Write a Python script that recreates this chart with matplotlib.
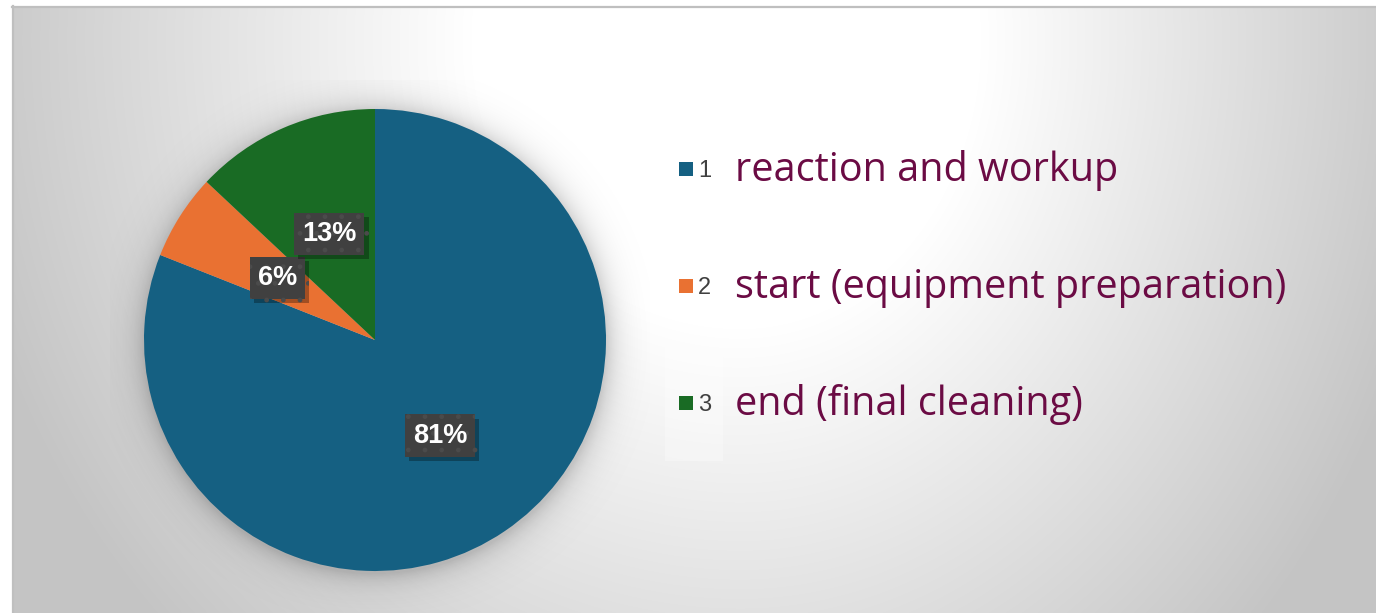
import numpy as np
import matplotlib
matplotlib.use("Agg")
import matplotlib.pyplot as plt
from matplotlib.patches import Rectangle
import matplotlib.patheffects as pe

# Share of total process time by phase
categories = ["reaction and workup", "start (equipment preparation)", "end (final cleaning)"]
series_ids = ["1", "2", "3"]
shares = [81, 6, 13]
colors = ["#156082", "#E97132", "#196B24"]

W, H = 1376, 613
fig = plt.figure(figsize=(W / 100, H / 100), dpi=100)
fig.patch.set_facecolor("white")

# Background axes in pixel coordinates (y grows downward)
bg = fig.add_axes([0, 0, 1, 1])
bg.set_xlim(0, W)
bg.set_ylim(H, 0)
bg.axis("off")

# Radial grey gradient of the chart area
fx0, fy0 = 12, 6
yy, xx = np.mgrid[fy0:H, fx0:W].astype(float)
cx, cy = 740.0, 40.0
rx = np.where(xx < cx, 727.0, 650.0)
d = np.sqrt(((xx - cx) / rx) ** 2 + ((yy - cy) / 780.0) ** 2)
t = np.clip((d - 0.37) / 0.63, 0, 1.15)
v = 1 - 0.2 * t
img = np.dstack([v, v, v])
bg.imshow(img, extent=[fx0, W, H, fy0], interpolation="bilinear", zorder=0)
bg.set_xlim(0, W)
bg.set_ylim(H, 0)
bg.plot([fx0, W], [fy0 + 0.5, fy0 + 0.5], color="#bfbfbf", lw=1.6, zorder=1)
bg.plot([fx0 + 0.5, fx0 + 0.5], [fy0, H], color="#bfbfbf", lw=1.6, zorder=1)

# Soft shadow under the pie
pcx, pcy, R = 375.0, 340.0, 231.0
sy, sx = np.mgrid[80:613, 110:650].astype(float)
r = np.sqrt((sx - pcx) ** 2 + (sy - pcy - 2) ** 2)
alpha = np.where(r > R - 3, 0.18 * np.exp(-np.clip(r - R, 0, None) / 13.0), 0.18)
shadow = np.zeros(sx.shape + (4,))
shadow[..., 3] = alpha
bg.imshow(shadow, extent=[110, 650, 613, 80], interpolation="bilinear", zorder=2)
bg.set_xlim(0, W)
bg.set_ylim(H, 0)

# Legend panel
bg.add_patch(Rectangle((665, 111), 58, 350, facecolor="white", alpha=0.3,
                       edgecolor="none", zorder=3))
row_y = [181, 298, 415]
for i, (cat, sid, col) in enumerate(zip(categories, series_ids, colors)):
    by = row_y[i]
    bg.add_patch(Rectangle((679, by - 19), 14, 14, facecolor=col,
                           edgecolor="none", zorder=4))
    bg.text(698, by - 4, sid, fontsize=17, color="#404040",
            family="Liberation Sans", va="baseline", ha="left", zorder=4)
    bg.text(735, by, cat, fontsize=28.5, color="#6B0B44",
            family="Open Sans", va="baseline", ha="left", zorder=4)

# Pie axes: center (375, 340) px, radius 231 px
ax = fig.add_axes([(pcx - R) / W, (H - pcy - R) / H, 2 * R / W, 2 * R / H])
wedges, texts, autotexts = ax.pie(
    shares, colors=colors, startangle=90, counterclock=False,
    autopct="%1.0f%%", pctdistance=0.5,
    wedgeprops=dict(linewidth=0),
    textprops=dict(color="white", fontsize=19.5, fontweight="bold",
                   family="Liberation Sans"),
)
ax.set_xlim(-1, 1)
ax.set_ylim(-1, 1)
ax.set_aspect("equal")
ax.patch.set_alpha(0)

for at in autotexts:
    at.set_bbox(dict(boxstyle="square,pad=0.3", facecolor="#404040",
                     edgecolor="#4b4b4b", linewidth=0, hatch="."))
    at.get_bbox_patch().set_path_effects([
        pe.SimplePatchShadow(offset=(3, -3), shadow_rgbFace="black", alpha=0.3),
        pe.Normal(),
    ])

fig.savefig("out.png", dpi=100, facecolor="white")
